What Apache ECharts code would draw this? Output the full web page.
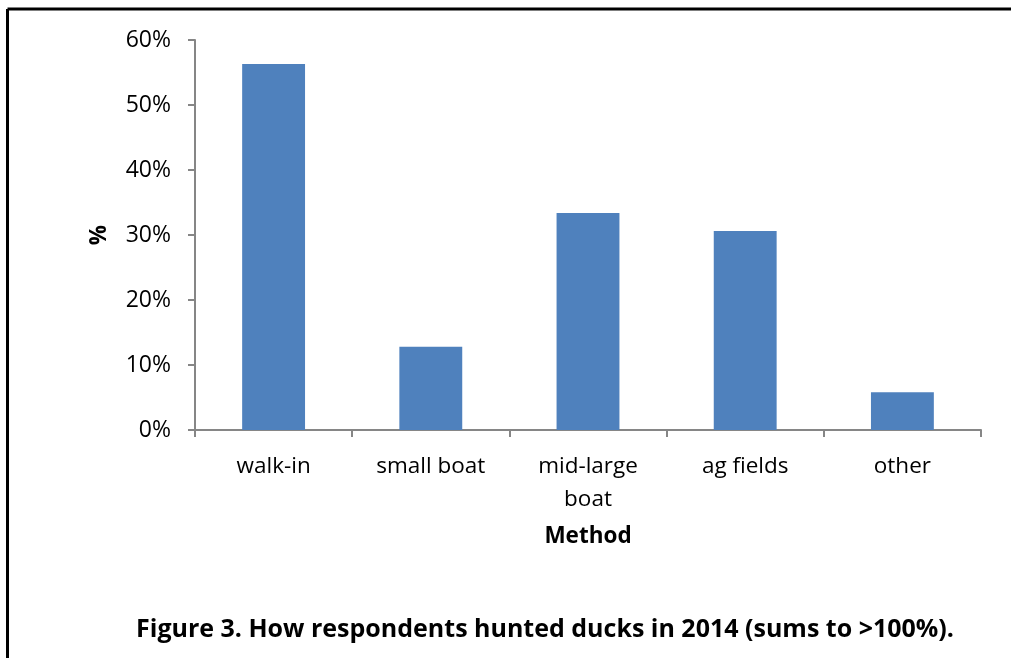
<!DOCTYPE html>
<html>
<head>
<meta charset="utf-8">
<script src="https://cdn.jsdelivr.net/npm/echarts@6/dist/echarts.min.js"></script>
<style>
  html, body { margin: 0; padding: 0; background: #fff; }
  #chart { width: 1011px; height: 658px; }
</style>
</head>
<body>
<div id="chart"></div>
<script>
// data
var categories = ['walk-in', 'small boat', 'mid-large\nboat', 'ag fields', 'other'];
var percents = [56.3, 12.8, 33.4, 30.6, 5.8];
var yTicks = [0, 10, 20, 30, 40, 50, 60];

var chart = echarts.init(document.getElementById('chart'));
var font = '"Open Sans", "Noto Sans", sans-serif';

var option = {
  animation: false,
  title: {
    text: 'Figure 3. How respondents hunted ducks in 2014 (sums to >100%).',
    left: 540,
    textAlign: 'center',
    top: 612,
    textStyle: { fontFamily: font, fontSize: 25, fontWeight: 'bold', color: '#000' }
  },
  // frame around the figure (right and bottom edges fall outside the crop)
  graphic: [
    { type: 'line', shape: { x1: 7.5, y1: 9, x2: 1011, y2: 9 }, style: { stroke: '#000', lineWidth: 3 } },
    { type: 'line', shape: { x1: 7.5, y1: 9, x2: 7.5, y2: 658 }, style: { stroke: '#000', lineWidth: 3 } }
  ],
  grid: { left: 195, top: 40, right: 30, bottom: 228 },
  xAxis: {
    type: 'category',
    data: categories,
    name: 'Method',
    nameLocation: 'middle',
    nameGap: 95,
    nameTextStyle: { fontFamily: font, fontSize: 22.5, fontWeight: 'bold', color: '#000' },
    axisLine: { lineStyle: { color: '#868686', width: 2 } },
    axisTick: { show: true, length: 7, lineStyle: { color: '#868686', width: 2 } },
    axisLabel: { fontFamily: font, fontSize: 22.5, color: '#000', margin: 20, lineHeight: 33 }
  },
  yAxis: {
    type: 'value',
    min: yTicks[0],
    max: yTicks[yTicks.length - 1],
    interval: 10,
    name: '%',
    nameLocation: 'middle',
    nameRotate: 90,
    nameGap: 84,
    nameTextStyle: { fontFamily: font, fontSize: 22.5, fontWeight: 'bold', color: '#000' },
    splitLine: { show: false },
    axisLine: { show: true, lineStyle: { color: '#868686', width: 2 } },
    axisTick: { show: true, length: 7, lineStyle: { color: '#868686', width: 2 } },
    axisLabel: { fontFamily: font, fontSize: 23, color: '#000', margin: 24, formatter: '{value}%' }
  },
  series: [{
    type: 'bar',
    data: percents,
    barWidth: '40%',
    itemStyle: { color: '#4f81bd' }
  }]
};
chart.setOption(option);
</script>
</body>
</html>
